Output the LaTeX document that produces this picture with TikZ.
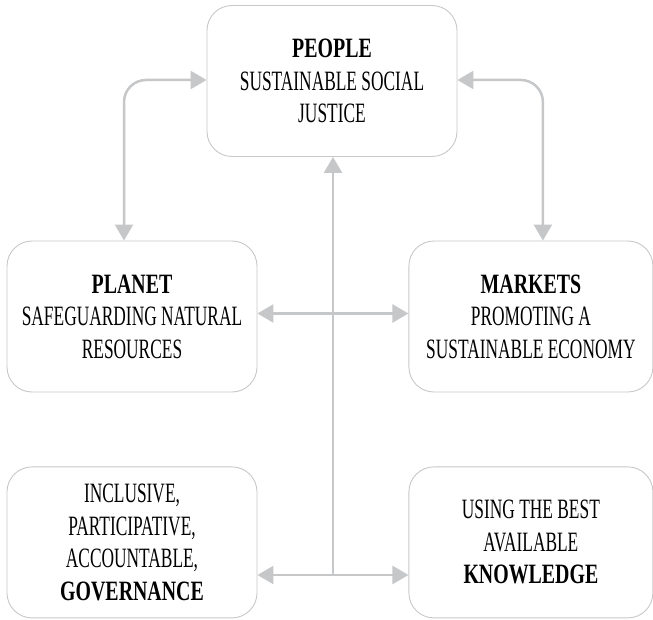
\documentclass[tikz,border=0pt]{standalone}
\usepackage{fontspec}
\setmainfont{Liberation Serif}[FakeStretch=0.62]
\newfontfamily\headfont{Liberation Serif}[FakeStretch=0.71]
\usepackage{xcolor}
\usepackage{tikz}
\usetikzlibrary{arrows.meta,positioning}

\definecolor{boxline}{HTML}{C8C8C8}
\definecolor{linkgray}{HTML}{C5C7C9}
\newcommand{\hd}[1]{{\headfont\bfseries #1}}

\begin{document}
\begin{tikzpicture}[
    x=1pt, y=1pt,
    node distance=151pt,
    pillar/.style={rectangle, rounded corners=25pt, draw=boxline, line width=0.9pt, fill=white,
        minimum width=250pt, minimum height=151pt, align=center, inner sep=2pt,
        font=\fontsize{28}{32.5}\selectfont},
    link/.style={line width=2.5pt, draw=linkgray, line cap=butt},
    twoway/.style={link, {Triangle[length=16pt,width=18pt]}-{Triangle[length=16pt,width=18pt]}},
    oneway/.style={link, -{Triangle[length=16pt,width=18pt]}}
]
    \useasboundingbox (0,0) rectangle (653,-620);

    % Boxes
    \node[pillar] (people) at (332,-81) {\hd{PEOPLE}\\SUSTAINABLE SOCIAL\\JUSTICE};
    \node[pillar] (planet) at (132,-316.5) {\hd{PLANET}\\SAFEGUARDING NATURAL\\RESOURCES};
    \node[pillar, minimum width=244pt, right=151pt of planet] (markets) {\hd{MARKETS}\\PROMOTING A\\SUSTAINABLE ECONOMY};

    \node[pillar, below=74pt of planet] (gov) {INCLUSIVE,\\PARTICIPATIVE,\\ACCOUNTABLE,\\\hd{GOVERNANCE}};
    \node[pillar, minimum width=244pt, right=151pt of gov] (know) {USING THE BEST\\AVAILABLE\\\hd{KNOWLEDGE}};

    \coordinate (base) at (333,-575);

    % Arrows
    \draw[oneway] (base) -- (base |- people.south);
    \draw[twoway] (gov.east |- base) -- (know.west |- base);
    \draw[twoway] ([yshift=3pt]planet.east) -- ([yshift=3pt]planet.east -| markets.west);
    \draw[twoway, rounded corners=22pt] ([yshift=1pt]people.west) -| ([xshift=-8pt]planet.north);
    \draw[twoway, rounded corners=22pt] ([yshift=1pt]people.east) -| ([xshift=12pt]markets.north);

\end{tikzpicture}
\end{document}
